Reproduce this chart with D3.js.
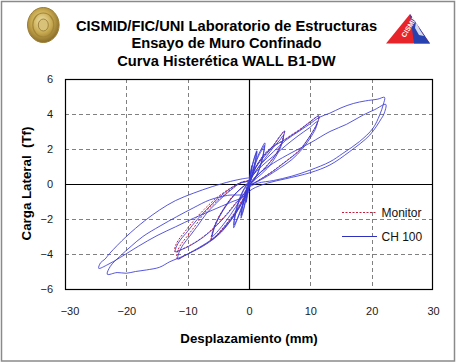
<!DOCTYPE html>
<html>
<head>
<meta charset="utf-8">
<script src="https://cdn.jsdelivr.net/npm/d3@7"></script>
<style>
  html, body { margin: 0; padding: 0; background: #fff; }
  svg { display: block; font-family: Arial, "Liberation Sans", sans-serif; }
</style>
</head>
<body>
<svg id="chart" width="457" height="363"></svg>
<script>
// ---------- data ----------
const titleLines = ["CISMID/FIC/UNI Laboratorio de Estructuras", "Ensayo de Muro Confinado", "Curva Histerética WALL B1-DW"];
const xTicks = [-30, -20, -10, 0, 10, 20, 30];
const yTicks = [-6, -4, -2, 0, 2, 4, 6];
const xLabel = "Desplazamiento (mm)";
const yLabel = "Carga Lateral  (Tf)";
const seriesNames = ["Monitor", "CH 100"];

// CH 100 : [displacement mm, load Tf], in test order
const ch100Small = [[0,0],[0.15,0.45],[0.35,0.85],[0.45,1.05],[0.35,0.7],[0.15,0.25],[0,0],[-0.15,-0.45],[-0.35,-0.85],[-0.45,-1.05],[-0.35,-0.7],[-0.15,-0.25],[0,0],
  [0.3,0.7],[0.7,1.3],[1.1,1.75],[1.25,1.9],[1.0,1.3],[0.6,0.6],[0.2,0.1],[-0.1,-0.2],[-0.5,-0.9],[-0.9,-1.5],[-1.2,-1.85],[-1.3,-1.95],[-1.05,-1.3],[-0.6,-0.55],[-0.2,-0.05],
  [0.1,0.2],[0.5,0.95],[1.0,1.6],[1.3,1.85],[1.05,1.25],[0.5,0.4],[0,-0.05],[-0.5,-0.8],[-1.0,-1.55],[-1.3,-1.8],[-1.0,-1.15],[-0.5,-0.4],[0,0.05]];
const ch100Cyc3 = [[0.4,0.6],[1.2,1.4],[2.0,2.0],[2.6,2.35],[2.45,1.9],[2.1,1.35],[1.5,0.7],[0.6,0.15],[0,-0.1],[-0.5,-0.7],[-1.3,-1.5],[-2.0,-2.1],[-2.5,-2.5],[-2.35,-2.0],[-1.9,-1.3],[-1.2,-0.6],[-0.4,-0.1],[0.2,0.15],
  [0.7,0.8],[1.5,1.55],[2.2,2.0],[2.5,2.2],[2.3,1.65],[1.7,0.85],[0.8,0.2],[0,-0.1],[-0.7,-0.8],[-1.5,-1.6],[-2.2,-2.2],[-2.45,-2.35],[-2.2,-1.6],[-1.4,-0.7],[-0.5,-0.1],[0.1,0.1]];
const ch100Cyc6 = [[0.5,0.45],[1.2,0.99],[2.3,1.5],[3.4,1.94],[4.3,2.35],[5.0,2.7],[5.8,3.03],[5.65,2.75],[5.5,2.5],[4.5,1.75],[2.8,0.99],[1.2,0.42],[0.2,0.0],
  [-0.3,-0.35],[-1.0,-0.9],[-2.0,-1.5],[-3.2,-2.1],[-4.5,-2.65],[-5.4,-3.0],[-6.1,-3.2],[-5.9,-2.8],[-5.3,-2.2],[-4.2,-1.5],[-2.8,-0.8],[-1.3,-0.25],[-0.2,0.05],
  [0.5,0.4],[1.5,0.95],[2.8,1.55],[4.0,2.1],[5.0,2.5],[5.6,2.78],[5.45,2.4],[4.6,1.7],[3.0,0.9],[1.3,0.35],[0.2,0.0],
  [-0.5,-0.4],[-1.5,-0.95],[-3.0,-1.75],[-4.5,-2.45],[-5.5,-2.85],[-6.0,-3.0],[-5.8,-2.6],[-5.0,-1.95],[-3.8,-1.25],[-2.2,-0.55],[-0.8,-0.1],[0,0.05]];
const ch100Cyc12 = [[0.5,0.55],[1.5,1.2],[2.8,1.8],[4.2,2.2],[5.5,2.45],[7,2.8],[8.3,3.1],[9.8,3.5],[11.4,3.89],[11.1,3.45],[10.4,3.0],[9.3,2.4],[8.3,1.94],[7,1.55],[5.5,1.15],[3.8,0.7],[2.2,0.34],[0.8,0.05],[0,-0.1],
  [-0.6,-0.7],[-1.5,-1.3],[-3,-2.1],[-4.5,-2.75],[-6.4,-3.3],[-8,-3.65],[-9.1,-3.85],[-10.5,-4.1],[-11.6,-4.29],[-11.4,-3.9],[-10.7,-3.45],[-9.7,-3.0],[-8.3,-2.35],[-6.9,-1.67],[-5.5,-1.15],[-4.2,-0.72],[-2.8,-0.3],[-1.5,0.04],[-0.3,0.15],
  [0.5,0.45],[2,1.0],[4,1.6],[6,2.2],[8,2.75],[9.8,3.2],[11.1,3.55],[10.9,3.2],[10.2,2.75],[8.8,2.05],[7,1.4],[5,0.9],[3,0.45],[1.2,0.1],[0.1,-0.1],
  [-0.8,-0.55],[-2,-1.05],[-3.5,-1.7],[-5.5,-2.45],[-7.5,-3.05],[-9.5,-3.5],[-11,-3.75],[-12,-3.87],[-11.8,-3.55],[-11.2,-3.2],[-10,-2.7],[-8.5,-2.05],[-6.9,-1.45],[-5,-0.8],[-3,-0.25],[-1.2,0.1],[0,0.2]];
const ch100Cyc24 = [[0.6,0.5],[2,1.15],[4,1.85],[6,2.5],[8.3,3.05],[10,3.45],[11.4,3.8],[13.2,4.05],[15,4.35],[17,4.6],[19,4.75],[21,4.85],[22.1,4.95],
  [21.9,4.55],[21.3,3.94],[20.2,3.18],[18,2.42],[15.3,1.75],[13.2,1.27],[10,0.8],[7,0.45],[4,0.2],[1.5,0.05],[0,-0.2],
  [-0.5,-0.6],[-2,-1.6],[-4,-2.5],[-6,-3.15],[-8,-3.6],[-10,-4.0],[-11.6,-4.25],[-12.9,-4.44],[-14.6,-4.76],[-16.7,-4.91],[-18.5,-5.0],[-20,-5.1],[-21.5,-5.06],[-23.1,-5.16],
  [-22.6,-4.7],[-21.1,-4.15],[-19.2,-3.55],[-17.3,-3.0],[-14.5,-2.4],[-11.8,-1.87],[-9,-1.35],[-6.4,-0.91],[-3.5,-0.65],[-0.4,-0.53],
  [0.5,0.2],[2,0.7],[4,1.2],[7,1.8],[10,2.35],[13.2,3.0],[15.9,3.41],[18.6,3.94],[20.5,4.25],[22.3,4.55],
  [22.0,4.0],[21.6,3.75],[19.7,2.8],[16.4,1.85],[13.2,1.09],[10,0.65],[6,0.3],[3,0.05],[0.5,-0.3],
  [-1,-0.75],[-3,-1.05],[-6,-1.5],[-9,-1.95],[-12,-2.45],[-15,-2.95],[-18,-3.55],[-21,-4.2],[-23,-4.6],[-24.5,-4.82],
  [-24.2,-4.5],[-23.5,-4.3],[-22.7,-3.96],[-20,-3.0],[-17,-2.1],[-14.6,-1.49],[-12,-0.95],[-9.1,-0.53],[-6,-0.15],[-3,0.15],[-1,0.3],[0,0.35]];

// Monitor : [displacement mm, load Tf]
const monitorCyc6 = [[0.5,0.45],[1.2,1.0],[2.3,1.52],[3.4,1.96],[4.3,2.37],[5.0,2.72],[5.8,3.03],[5.6,2.72],[5.45,2.5],[4.45,1.75],[2.75,0.99],[1.2,0.42],[0.2,0.0],
  [-0.3,-0.35],[-1.1,-0.9],[-2.1,-1.5],[-3.3,-2.1],[-4.6,-2.65],[-5.5,-3.0],[-6.2,-3.2],[-6.0,-2.8],[-5.4,-2.2],[-4.3,-1.5],[-2.9,-0.8],[-1.3,-0.25],[-0.2,0.05]];
const monitorCyc12 = [[0.5,0.55],[1.5,1.22],[2.8,1.82],[4.2,2.22],[5.5,2.47],[7,2.82],[8.3,3.12],[9.8,3.52],[11.4,3.89],[11.1,3.45],[10.4,3.0],[9.3,2.42],[8.3,1.96],[7,1.57],[5.5,1.17],[3.8,0.72],[2.2,0.35],[0.8,0.05],[0,-0.1],
  [-0.6,-0.7],[-1.6,-1.3],[-3.1,-2.1],[-4.6,-2.75],[-6.5,-3.3],[-8.1,-3.65],[-9.2,-3.85],[-10.6,-4.1],[-11.7,-4.29],[-11.7,-3.9],[-11.1,-3.45],[-10.1,-3.0],[-8.7,-2.35],[-7.3,-1.67],[-5.8,-1.15],[-4.4,-0.72],[-2.9,-0.3],[-1.5,0.04],[-0.3,0.15],
  [-0.8,-0.55],[-2.1,-1.05],[-3.6,-1.7],[-5.6,-2.45],[-7.6,-3.05],[-9.6,-3.5],[-11.1,-3.75],[-12.1,-3.87],[-12.0,-3.55],[-11.5,-3.2],[-10.4,-2.7],[-8.9,-2.05],[-7.3,-1.45],[-5.3,-0.8],[-3.1,-0.25],[-1.2,0.1],[0,0.2]];

const ch100 = [].concat(ch100Small, ch100Cyc3, ch100Cyc6, ch100Cyc12, ch100Cyc24);
const monitor = [].concat(monitorCyc6, monitorCyc12);

// ---------- drawing ----------
const W = 457, H = 363;
const svg = d3.select("#chart");
const plot = { left: 65, right: 433, top: 79, bottom: 289 };
const x = d3.scaleLinear().domain([-30, 30]).range([plot.left, plot.right]);
const y = d3.scaleLinear().domain([-6, 6]).range([plot.bottom, plot.top]);

// outer border
svg.append("rect").attr("x", 1.5).attr("y", 1.5).attr("width", 453).attr("height", 359.5)
  .attr("fill", "#fff").attr("stroke", "#8a8a8a").attr("stroke-width", 1.5);

// titles
svg.append("g").selectAll("text").data(titleLines).join("text")
  .attr("x", 226.5).attr("y", (d, i) => 30.7 + i * 17.5)
  .attr("text-anchor", "middle").attr("font-weight", "bold").attr("font-size", "14.7px")
  .attr("fill", "#000").text(d => d);

// left logo (medallion)
const defs = svg.append("defs");
const rg = defs.append("radialGradient").attr("id", "gold").attr("cx", "45%").attr("cy", "40%").attr("r", "60%");
rg.append("stop").attr("offset", "0%").attr("stop-color", "#efe2a8");
rg.append("stop").attr("offset", "55%").attr("stop-color", "#c7a950");
rg.append("stop").attr("offset", "100%").attr("stop-color", "#8a6d27");
svg.append("ellipse").attr("cx", 43.3).attr("cy", 25).attr("rx", 15.8).attr("ry", 17.5).attr("fill", "url(#gold)").attr("stroke", "#9c7e35").attr("stroke-width", 1);
svg.append("ellipse").attr("cx", 43.3).attr("cy", 25).attr("rx", 10.5).attr("ry", 12).attr("fill", "none").attr("stroke", "#a48638").attr("stroke-width", 1.2);
svg.append("ellipse").attr("cx", 43.3).attr("cy", 25).attr("rx", 5).attr("ry", 6).attr("fill", "#d8c27a").attr("stroke", "#8f7330").attr("stroke-width", 0.8);

// right logo (triangle)
const tri = svg.append("g");
tri.append("polygon").attr("points", "410,14 386,43.5 430,43.5").attr("fill", "#e8242b");
tri.append("polygon").attr("points", "410,14 414,43.5 430,43.5").attr("fill", "#2742b0");
tri.append("polygon").attr("points", "416,22 420,30 424,36 419,35 415,28").attr("fill", "#ffffff").attr("opacity", 0.8);
tri.append("text").attr("transform", "translate(405,38) rotate(-58)").attr("font-size", "7px").attr("font-weight", "bold")
  .attr("fill", "#fff").text("CISMID");

// grid
const grid = svg.append("g").attr("stroke", "#808080").attr("stroke-width", 1).attr("stroke-dasharray", "4,3");
grid.selectAll("line.v").data(xTicks.filter(t => t !== 0 && Math.abs(t) !== 30)).join("line")
  .attr("x1", d => Math.round(x(d)) + 0.5).attr("x2", d => Math.round(x(d)) + 0.5)
  .attr("y1", plot.top).attr("y2", plot.bottom);
grid.selectAll("line.h").data(yTicks.filter(t => t !== 0 && Math.abs(t) !== 6)).join("line")
  .attr("y1", d => Math.round(y(d)) + 0.5).attr("y2", d => Math.round(y(d)) + 0.5)
  .attr("x1", plot.left).attr("x2", plot.right);

// zero axes
svg.append("line").attr("x1", plot.left).attr("x2", plot.right).attr("y1", Math.round(y(0)) + 0.5).attr("y2", Math.round(y(0)) + 0.5)
  .attr("stroke", "#000").attr("stroke-width", 1.2);
svg.append("line").attr("y1", plot.top).attr("y2", plot.bottom).attr("x1", Math.round(x(0)) + 0.5).attr("x2", Math.round(x(0)) + 0.5)
  .attr("stroke", "#000").attr("stroke-width", 1.2);

// frame
svg.append("rect").attr("x", plot.left + 0.5).attr("y", plot.top + 0.5)
  .attr("width", plot.right - plot.left - 1).attr("height", plot.bottom - plot.top)
  .attr("fill", "none").attr("stroke", "#000").attr("stroke-width", 1.2);

// clip
defs.append("clipPath").attr("id", "clip").append("rect")
  .attr("x", plot.left).attr("y", plot.top).attr("width", plot.right - plot.left).attr("height", plot.bottom - plot.top);

const line = d3.line().x(d => x(d[0])).y(d => y(d[1])).curve(d3.curveCatmullRom.alpha(0.5));
const series = svg.append("g").attr("clip-path", "url(#clip)");
series.append("path").datum(monitor).attr("d", line).attr("fill", "none")
  .attr("stroke", "#c81e3c").attr("stroke-width", 1).attr("stroke-dasharray", "2,1.5");
series.append("path").datum(ch100).attr("d", line).attr("fill", "none")
  .attr("stroke", "#3a3ad6").attr("stroke-width", 0.9).attr("stroke-opacity", 0.95);

// axes tick labels
const xAxis = svg.append("g").attr("transform", `translate(0,${plot.bottom})`)
  .call(d3.axisBottom(x).tickValues(xTicks).tickSize(0).tickPadding(0).tickFormat(d3.format("d")));
xAxis.select(".domain").remove();
xAxis.selectAll("text").attr("y", 26).attr("dy", 0).attr("font-size", "11px").attr("font-family", "Arial, 'Liberation Sans', sans-serif").attr("fill", "#1a1a1a")
  .attr("dx", (d, i) => i === 0 ? 4.5 : 0);

const yAxis = svg.append("g").attr("transform", `translate(${plot.left},0)`)
  .call(d3.axisLeft(y).tickValues(yTicks).tickSize(0).tickPadding(12).tickFormat(d3.format("d")));
yAxis.select(".domain").remove();
yAxis.selectAll("text").attr("font-size", "11px").attr("font-family", "Arial, 'Liberation Sans', sans-serif").attr("fill", "#1a1a1a");

// axis titles
svg.append("text").attr("x", 249).attr("y", 343.3).attr("text-anchor", "middle")
  .attr("font-weight", "bold").attr("font-size", "13.3px").text(xLabel);
svg.append("text").attr("transform", "translate(31,183.5) rotate(-90)").attr("text-anchor", "middle")
  .attr("font-weight", "bold").attr("font-size", "13.3px").style("white-space", "pre").text(yLabel);

// legend
const leg = svg.append("g");
const legendRows = [
  { name: seriesNames[0], color: "#c81e3c", dash: "2,1.5", y: 212.5 },
  { name: seriesNames[1], color: "#2f2fc0", dash: null, y: 236.5 }
];
legendRows.forEach(r => {
  leg.append("line").attr("x1", 342).attr("x2", 377).attr("y1", r.y).attr("y2", r.y)
    .attr("stroke", r.color).attr("stroke-width", 1).attr("stroke-dasharray", r.dash);
  leg.append("text").attr("x", 381.5).attr("y", r.y + 4.2).attr("font-size", "12px").attr("fill", "#111").text(r.name);
});
</script>
</body>
</html>
